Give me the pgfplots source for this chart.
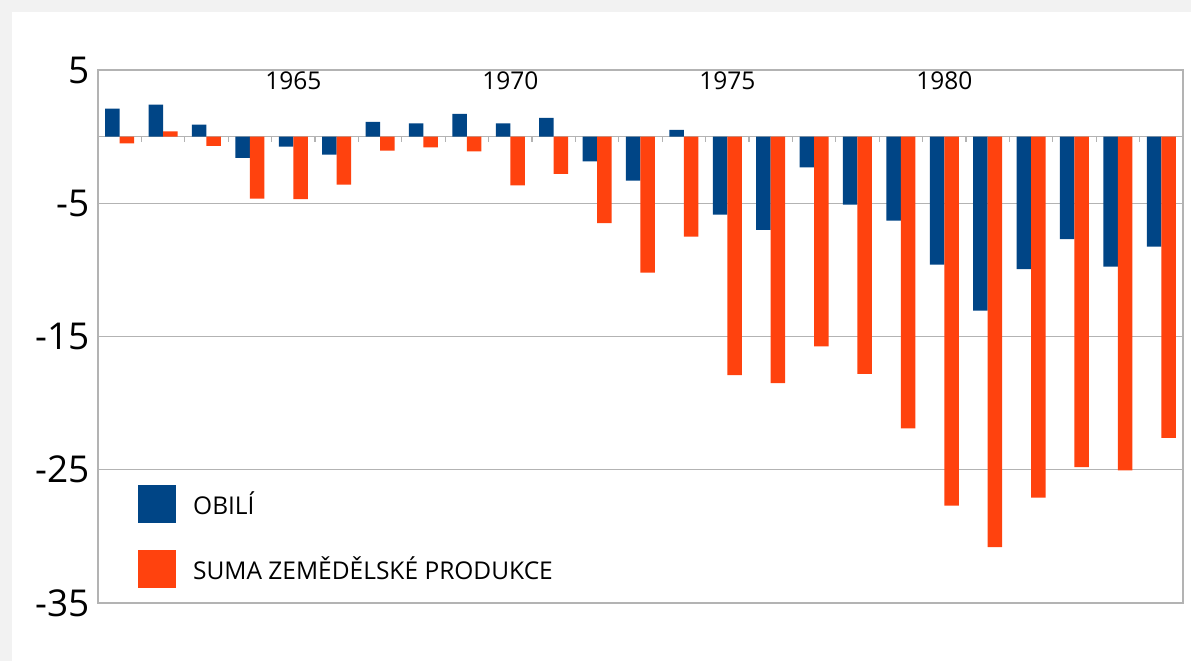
\documentclass[border=0pt]{standalone}
\usepackage{pgfplots}
\pgfplotsset{compat=1.18}
\usepackage{fontspec}
\setmainfont{Open Sans}
\definecolor{cblue}{HTML}{004586}
\definecolor{corange}{HTML}{FF420E}
\definecolor{cgrid}{HTML}{B3B3B3}
\definecolor{cbg}{HTML}{F2F2F2}
\pgfplotstableread{
x obili suma
0 2.1 -0.5
1 2.4 0.4
2 0.9 -0.7
3 -1.6 -4.65
4 -0.75 -4.7
5 -1.35 -3.6
6 1.1 -1.05
7 1.0 -0.8
8 1.7 -1.1
9 1.0 -3.65
10 1.4 -2.8
11 -1.85 -6.5
12 -3.3 -10.2
13 0.5 -7.5
14 -5.85 -17.9
15 -7.0 -18.5
16 -2.3 -15.75
17 -5.1 -17.8
18 -6.3 -21.9
19 -9.6 -27.7
20 -13.05 -30.8
21 -9.95 -27.1
22 -7.7 -24.8
23 -9.75 -25.05
24 -8.25 -22.6
}\datatable
\begin{document}
\begin{tikzpicture}
\fill[cbg] (0,0) rectangle (1191pt,661pt);
\fill[white] (12pt,0) rectangle (1191pt,649pt);
\begin{axis}[
  at={(98pt,58pt)}, anchor=south west,
  scale only axis, width=1085pt, height=533pt,
  ybar=0pt, bar width=14.5pt,
  xmin=-0.5, xmax=24.5, ymin=-35, ymax=5,
  ytick={-35,-25,-15,-5,5},
  yticklabels={-35,-25,-15,-5,5},
  yticklabel style={font=\fontsize{37}{37}\selectfont, xshift=-5pt},
  ymajorgrids, grid style={cgrid, line width=1.3pt},
  major tick length=4pt,
  ytick style={cgrid, line width=1.3pt},
  xtick={4,9,14,19},
  xticklabels={1965,1970,1975,1980},
  xticklabel pos=upper,
  xtick style={draw=none},
  xticklabel style={font=\fontsize{24.5}{24.5}\selectfont, anchor=north, yshift=-2pt},
  axis line style={cgrid, line width=1.5pt},
  legend style={draw=none, fill=none, at={(axis description cs:0,0)}, anchor=south west,
    xshift=40pt, yshift=15pt, row sep=27pt, column sep=17pt, inner sep=0pt,
    nodes={inner sep=0pt},
    font=\fontsize{24.5}{24.5}\selectfont, legend cell align=left},
  legend image code/.code={\fill[#1] (0pt,-19pt) rectangle (38pt,19pt);},
  clip=false,
]
\draw[cgrid, line width=1.3pt] (axis cs:-0.5,0) -- (axis cs:24.5,0);
\pgfplotsinvokeforeach{0,...,24}{\draw[cgrid, line width=1.2pt] (axis cs:#1+0.5,0) -- ([yshift=-5pt]axis cs:#1+0.5,0);}
\addplot[fill=cblue, draw=none] table[x=x, y=obili] {\datatable};
\addplot[fill=corange, draw=none] table[x=x, y=suma] {\datatable};
\legend{OBILÍ, SUMA ZEMĚDĚLSKÉ PRODUKCE}
\end{axis}
\end{tikzpicture}
\end{document}
